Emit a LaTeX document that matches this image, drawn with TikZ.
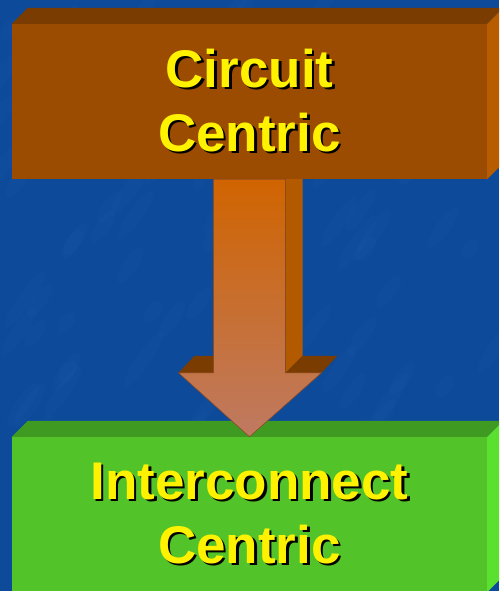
\documentclass[tikz,border=0pt]{standalone}
\usepackage{fontspec}
\setmainfont{Liberation Sans}
\usetikzlibrary{calc}
\definecolor{slideblue}{HTML}{0D4A9A}
\definecolor{streakblue}{HTML}{3A78C4}
\definecolor{rustfront}{HTML}{9C4C00}
\definecolor{rusttop}{HTML}{7A3C00}
\definecolor{rustside}{HTML}{B85C00}
\definecolor{shafttop}{HTML}{D06400}
\definecolor{shaftbottom}{HTML}{BF7A62}
\definecolor{shaftside}{HTML}{B35A00}
\definecolor{shaftedge}{HTML}{8A4A22}
\definecolor{leaffront}{HTML}{52C42A}
\definecolor{leaftop}{HTML}{3F9A22}
\definecolor{leafside}{HTML}{5CE030}

\newcommand\dropword[1]{\leavevmode\rlap{\kern2.5pt\raisebox{-2.5pt}{\color{black}#1}}#1}

\tikzset{
  blockface/.style={minimum width=475pt,minimum height=155pt,inner sep=0pt},
  blocktext/.style={align=center,inner sep=0pt,text=yellow,
    font=\bfseries\fontsize{53}{64}\selectfont},
}

\begin{document}
\begin{tikzpicture}[x=1pt,y=-1pt]
  \useasboundingbox (0,0) rectangle (499,591);
  \clip (0,0) rectangle (499,591);
  \fill[slideblue] (0,0) rectangle (499,591);
  \begin{scope}
   \pgfmathsetseed{7}
   \foreach \i in {1,...,140}{
     \pgfmathsetmacro{\px}{rnd*499}
     \pgfmathsetmacro{\py}{rnd*591}
     \pgfmathsetmacro{\pw}{10+rnd*25}
     \fill[streakblue,opacity=.06,rotate around={55:(\px,\py)}]
       (\px,\py) ellipse ({\pw} and 7);
   }
  \end{scope}

  % upper block
  \node[blockface,fill=rustfront] (circ) at (249.5,101.5) {};
  \fill[rusttop] (circ.north west) -- ++(16,-16) -- ($(circ.north east)+(16,-16)$)
    -- (circ.north east) -- cycle;
  \fill[rustside] (circ.north east) -- ++(16,-16) -- ($(circ.south east)+(16,-16)$)
    -- (circ.south east) -- cycle;
  \node[blocktext] (circtext) at (circ.center) {\dropword{Circuit}\\\dropword{Centric}};

  % lower block
  \node[blockface,fill=leaffront] (inter) at (249.5,514.5) {};
  \fill[leaftop] (inter.north west) -- ++(16,-16) -- ($(inter.north east)+(16,-16)$)
    -- (inter.north east) -- cycle;
  \fill[leafside] (inter.north east) -- ++(16,-16) -- ($(inter.south east)+(16,-16)$)
    -- (inter.south east) -- cycle;
  \node[blocktext] (intertext) at (inter.center) {\dropword{Interconnect}\\\dropword{Centric}};

  % block arrow between them
  \coordinate (from) at (circ.south);
  \coordinate (to) at (inter.north);
  \fill[shaftside] ($(from)+(36,0)$) -- ($(from)+(53,0)$) -- ($(to)+(53,-81)$)
    -- ($(to)+(36,-64)$) -- cycle;
  \fill[rusttop] ($(to)+(-71,-64)$) -- ($(to)+(-55,-81)$) -- ($(to)+(-36,-81)$)
    -- ($(to)+(-36,-64)$) -- cycle;
  \fill[rusttop] ($(to)+(36,-64)$) -- ($(to)+(53,-81)$) -- ($(to)+(88,-81)$)
    -- ($(to)+(72,-64)$) -- cycle;
  \draw[shaftedge,line width=.6pt,top color=shafttop,bottom color=shaftbottom]
    ($(from)+(-36,0)$) -- ($(from)+(36,0)$) -- ($(to)+(36,-64)$) -- ($(to)+(72,-64)$)
    -- (to) -- ($(to)+(-71,-64)$) -- ($(to)+(-36,-64)$) -- cycle;
\end{tikzpicture}
\end{document}
